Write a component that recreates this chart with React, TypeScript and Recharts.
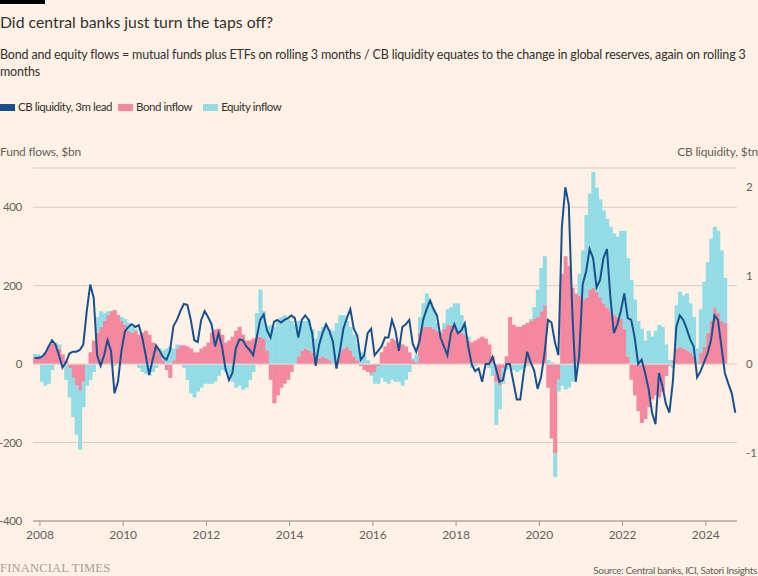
import React from "react";
import {
  ComposedChart,
  Bar,
  Line,
  XAxis,
  YAxis,
  CartesianGrid,
  ReferenceLine,
} from "recharts";

// monthly readings, Nov 2007 onwards
const START_YEAR = 2007;
const START_MONTH = 11;

// CB liquidity, 3m lead ($tn)
const cbLiquidity = [
  0.07, 0.07,
  0.08, 0.12, 0.2, 0.27, 0.22, 0.1, -0.04, 0.02, 0.12, 0.14, 0.14, 0.16,
  0.22, 0.6, 0.9, 0.75, 0.1, -0.02, 0.1, 0.27, 0.15, -0.33, -0.2, 0.15,
  0.37, 0.42, 0.45, 0.42, 0.44, 0.3, 0.1, -0.12, 0.05, 0.21, 0.15, 0.08,
  0.05, 0.15, 0.43, 0.5, 0.6, 0.68, 0.67, 0.5, 0.27, 0.25, 0.5, 0.6,
  0.53, 0.45, 0.2, 0.35, 0.2, -0.05, -0.18, -0.1, 0.18, 0.28, 0.27, 0.2,
  0.16, 0.1, 0.3, 0.5, 0.56, 0.38, 0.3, 0.48, 0.5, 0.47, 0.5, 0.52,
  0.55, 0.52, 0.3, 0.5, 0.55, 0.5, 0.35, -0.02, 0.22, 0.35, 0.45, 0.37,
  0.25, -0.05, 0.15, 0.4, 0.52, 0.62, 0.4, 0.32, 0.05, 0.1, 0.35, 0.4,
  0.1, 0.15, 0.2, 0.3, 0.3, 0.5, 0.38, 0.15, 0.42, 0.45, 0.5, 0.23,
  0.14, 0.27, 0.5, 0.62, 0.72, 0.62, 0.55, 0.3, 0.2, 0.1, 0.35, 0.45,
  0.35, 0.38, 0.46, 0.2, 0.0, -0.08, -0.05, -0.2, 0.0, 0.0, 0.08, -0.05,
  -0.2, -0.18, 0.0, 0.0, -0.2, -0.4, -0.4, -0.1, 0.14, 0.02, -0.07, -0.28,
  -0.15, 0.12, 0.5, 0.47, 0.25, 0.1, 1.55, 2.0, 1.8, 0.6, -0.2, 0.1,
  0.9, 1.05, 1.3, 1.2, 0.87, 0.95, 1.2, 1.3, 0.75, 0.35, 0.45, 0.6,
  0.8, 0.52, 0.5, 0.3, 0.0, 0.05, -0.1, -0.28, -0.55, -0.68, -0.1, -0.25,
  -0.45, -0.55, -0.2, 0.42, 0.55, 0.5, 0.4, 0.28, 0.2, -0.15, -0.08, 0.02,
  0.12, 0.27, 0.55, 0.5, 0.2, -0.1, -0.22, -0.33, -0.55,
];

// Bond inflow ($bn)
const bondInflow = [
  18, 20,
  15, 30, 45, 52, 50, 40, 25, 8, -10, -35, -55, -68,
  -45, 0, 30, 60, 80, 95, 110, 125, 135, 138, 125, 110,
  100, 85, 80, 85, 75, 80, 85, 75, 55, 40, 30, 10,
  -15, -35, 10, 40, 48, 48, 45, 40, 30, 30, 40, 45,
  55, 80, 88, 90, 75, 55, 60, 70, 85, 95, 75, 60,
  60, 65, 70, 70, 65, 35, -40, -100, -80, -60, -50, -40,
  -20, 0, 20, 35, 40, 35, 30, 20, 15, 20, 15, 10,
  0, 10, 30, 40, 45, 35, 20, 10, -5, -15, -20, -25,
  -20, -5, 30, 45, 55, 65, 60, 55, 50, 45, 30, 10,
  5, 80, 95, 95, 95, 90, 85, 80, 90, 100, 100, 95,
  85, 80, 75, 60, 55, 60, 65, 70, 65, 50, 20, -45,
  -55, -10, 20, 120, 100, 95, 95, 100, 105, 110, 115, 120,
  135, 150, -60, -190, -228, -40, 230, 275, 250, 195, 180, 175,
  165, 170, 190, 195, 185, 170, 155, 145, 135, 125, 120, 115,
  90, 20, -40, -80, -120, -150, -140, -110, -90, -80, -85, -70,
  -30, -5, 10, 40, 45, 40, 35, 30, 20, 5, 30, 45,
  80, 110, 145, 130, 110, 105, null, null, null,
];

// Equity inflow ($bn)
const equityInflow = [
  8, 5,
  -45, -55, -50, -15, 5, 10, 0, -40, -75, -100, -125, -150,
  -65, -55, -40, -20, 40, 40, 20, 10, 0, -5, 0, 10,
  15, 20, 15, 5, -10, -20, -25, -30, -20, -10, 10, 25,
  40, 45, 30, 10, 0, -10, -40, -75, -85, -70, -60, -50,
  -50, -50, -45, -30, -15, -20, -30, -45, -60, -55, -65, -60,
  -40, -20, 60, 120, 70, 60, 100, 95, 110, 120, 125, 115,
  110, 100, 90, 75, 70, 80, 60, 45, 70, 75, 85, 80,
  85, 95, 95, 85, 65, 60, 55, 40, 30, 20, 10, -5,
  -30, -45, -35, -45, -50, -40, -45, -45, -55, -40, -20, 5,
  20, 40, 60, 85, 65, 50, 20, 5, 15, 40, 45, 60,
  70, 45, 20, 10, -10, -5, 0, 0, 0, -10, -30, -110,
  -60, -40, -15, -5, -15, -20, -15, -10, -5, 5, 30, 70,
  110, 125, 10, 5, -60, -30, -55, -65, -60, -45, -20, 55,
  125, 210, 245, 295, 265, 250, 237, 225, 215, 208, 205, 225,
  250, 250, 215, 165, 110, 90, 60, 85, 70, 85, 100, 95,
  50, 10, -10, 110, 140, 135, 145, 125, 100, 35, 110, 165,
  180, 210, 205, 210, 180, 115, null, null, null,
];

const yearTicks = [
  "2008-01", "2010-01", "2012-01", "2014-01", "2016-01",
  "2018-01", "2020-01", "2022-01", "2024-01",
];
const flowTicks = [-400, -200, 0, 200, 400];
const liquidityTicks = [-1, 0, 1, 2];

const months = cbLiquidity.map((_, i) => {
  const n = START_MONTH - 1 + i;
  const y = START_YEAR + Math.floor(n / 12);
  const m = (n % 12) + 1;
  return `${y}-${String(m).padStart(2, "0")}`;
});

const data = months.map((month, i) => ({
  month,
  cb: cbLiquidity[i],
  bond: bondInflow[i],
  equity: equityInflow[i],
}));

const BG = "#FFF1E5";
const TEXT = "#33302E";
const MUTED = "#66605C";
const BLUE = "#184F8F";
const PINK = "#F3889F";
const CYAN = "#93DCE5";
const FONT = "Lato, 'Noto Sans', sans-serif";

const PLOT_W = 704;
const BAND = PLOT_W / months.length;

// recharts floors the bar width, so fill the whole band ourselves
// (a little overlap hides the anti-aliasing seams)
function FlowBar(props: any) {
  const { x, y, height, fill } = props;
  if (!height) return null;
  const top = Math.min(y, y + height);
  return <rect x={x} y={top} width={BAND + 0.6} height={Math.abs(height)} fill={fill} />;
}

// ticks sit on the year boundary, not the middle of January
function YearTick(props: any) {
  const { x, y, payload } = props;
  const tx = x - BAND / 2;
  return (
    <g>
      <line x1={tx} x2={tx} y1={y} y2={y + 5} stroke="#9E958D" />
      <text x={tx} y={y + 18} textAnchor="middle" fill={MUTED} fontSize={12}>
        {String(payload.value).slice(0, 4)}
      </text>
    </g>
  );
}

const abs = (top: number, extra: React.CSSProperties = {}): React.CSSProperties => ({
  position: "absolute",
  top,
  whiteSpace: "nowrap",
  ...extra,
});

function Swatch({ color }: { color: string }) {
  return (
    <span
      style={{
        display: "inline-block",
        width: 15,
        height: 7,
        background: color,
        marginRight: 3,
        verticalAlign: "middle",
        position: "relative",
        top: -1,
      }}
    />
  );
}

export default function App() {
  return (
    <div
      style={{
        position: "absolute",
        left: 0,
        top: 0,
        width: 758,
        height: 576,
        overflow: "hidden",
        background: BG,
        fontFamily: FONT,
        color: TEXT,
      }}
    >
      <div style={{ position: "absolute", left: 0, top: 0, width: 45, height: 4, background: "#000" }} />
      <div style={abs(11, { left: 0, fontSize: 15.8, lineHeight: "22px" })}>
        Did central banks just turn the taps off?
      </div>
      <div style={abs(46, { left: 0, fontSize: 12.5, lineHeight: "17px", letterSpacing: -0.17 })}>
        Bond and equity flows = mutual funds plus ETFs on rolling 3 months / CB liquidity equates to the change in global reserves, again on rolling 3
        <br />
        months
      </div>
      <div style={abs(99, { left: 0, fontSize: 11.5, lineHeight: "16px", letterSpacing: -0.45 })}>
        <Swatch color={BLUE} />
        <span style={{ marginRight: 6 }}>CB liquidity, 3m lead</span>
        <Swatch color={PINK} />
        <span style={{ marginRight: 11 }}>Bond inflow</span>
        <Swatch color={CYAN} />
        <span>Equity inflow</span>
      </div>
      <div style={abs(144, { left: 0, fontSize: 12, lineHeight: "16px", color: MUTED, letterSpacing: -0.2 })}>
        Fund flows, $bn
      </div>
      <div style={abs(144, { right: 0, fontSize: 12, lineHeight: "16px", color: MUTED, letterSpacing: -0.2 })}>
        CB liquidity, $tn
      </div>

      <div style={{ position: "absolute", left: 0, top: 0 }}>
        <ComposedChart
          width={758}
          height={551}
          data={data}
          margin={{ top: 168, right: 0, bottom: 0, left: 0 }}
          stackOffset="sign"
          barCategoryGap={0}
          barGap={0}
        >
          <CartesianGrid yAxisId="left" vertical={false} stroke="#D6CCC3" />
          <XAxis
            dataKey="month"
            ticks={yearTicks}
            interval={0}
            tick={<YearTick />}
            tickLine={false}
            tickSize={0}
            tickMargin={0}
            axisLine={{ stroke: "#9E958D" }}
            height={30}
          />
          <YAxis
            yAxisId="left"
            domain={[-400, 500]}
            ticks={flowTicks}
            width={33}
            axisLine={false}
            tickLine={false}
            tickSize={0}
            tickMargin={11}
            tick={{ fill: MUTED, fontSize: 11.5, letterSpacing: -0.3 }}
          />
          <YAxis
            yAxisId="right"
            orientation="right"
            domain={[-1.774, 2.2175]}
            ticks={liquidityTicks}
            width={21}
            axisLine={false}
            tickLine={false}
            tickSize={0}
            tickMargin={9}
            tick={{ fill: MUTED, fontSize: 11.5 }}
          />
          <Bar
            yAxisId="left"
            dataKey="bond"
            stackId="flows"
            fill={PINK}
            shape={<FlowBar />}
            isAnimationActive={false}
          />
          <Bar
            yAxisId="left"
            dataKey="equity"
            stackId="flows"
            fill={CYAN}
            shape={<FlowBar />}
            isAnimationActive={false}
          />
          <ReferenceLine yAxisId="left" y={0} stroke="#EEDFD5" strokeWidth={1} />
          <Line
            yAxisId="right"
            dataKey="cb"
            type="linear"
            stroke={BLUE}
            strokeWidth={2}
            dot={false}
            isAnimationActive={false}
          />
        </ComposedChart>
      </div>

      <div
        style={abs(560, {
          left: 0,
          fontFamily: "'Liberation Serif', serif",
          fontSize: 12.5,
          lineHeight: "16px",
          color: "#A39E99",
          letterSpacing: 0.2,
        })}
      >
        FINANCIAL TIMES
      </div>
      <div style={abs(563, { right: 1, fontSize: 10, lineHeight: "14px", color: MUTED, letterSpacing: -0.35 })}>
        Source: Central banks, ICI, Satori Insights
      </div>
    </div>
  );
}
